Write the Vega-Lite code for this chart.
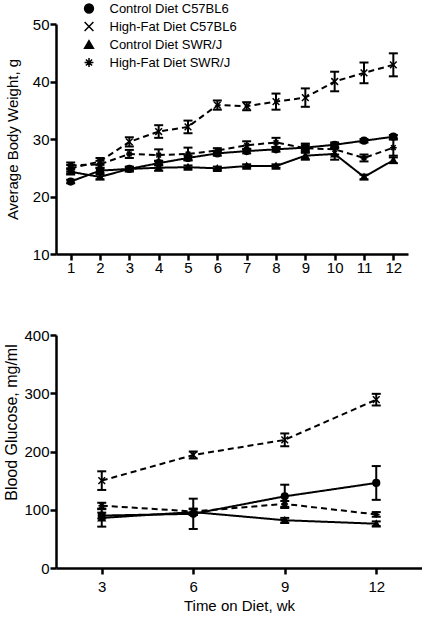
{
  "$schema": "https://vega.github.io/schema/vega-lite/v6.json",
  "padding": {"left": 3, "top": 2, "right": 0, "bottom": 0},
  "config": {
    "font": "Liberation Sans",
    "view": {"stroke": null},
    "axis": {
      "grid": false,
      "domainColor": "black",
      "domainWidth": 2.5,
      "tickColor": "black",
      "tickWidth": 2.5,
      "tickSize": 6,
      "labelFontSize": 15,
      "labelColor": "black",
      "labelPadding": 1,
      "labelOverlap": false,
      "labelFlush": false,
      "titleFontSize": 15,
      "titleFontWeight": "normal",
      "titleColor": "black"
    }
  },
  "spacing": 53,
  "resolve": {
    "scale": {"shape": "independent", "strokeDash": "independent"},
    "legend": {"shape": "independent", "strokeDash": "independent"}
  },
  "datasets": {
    "weight": [
      {"week": 1, "group": "Control Diet C57BL6", "diet": "Control", "mean": 22.6, "lo": 22.3, "hi": 22.9},
      {"week": 2, "group": "Control Diet C57BL6", "diet": "Control", "mean": 24.5, "lo": 24.1, "hi": 24.9},
      {"week": 3, "group": "Control Diet C57BL6", "diet": "Control", "mean": 24.8, "lo": 24.5, "hi": 25.1},
      {"week": 4, "group": "Control Diet C57BL6", "diet": "Control", "mean": 25.8, "lo": 25.4, "hi": 26.2},
      {"week": 5, "group": "Control Diet C57BL6", "diet": "Control", "mean": 26.7, "lo": 26.3, "hi": 27.1},
      {"week": 6, "group": "Control Diet C57BL6", "diet": "Control", "mean": 27.5, "lo": 27.1, "hi": 27.9},
      {"week": 7, "group": "Control Diet C57BL6", "diet": "Control", "mean": 27.9, "lo": 27.5, "hi": 28.3},
      {"week": 8, "group": "Control Diet C57BL6", "diet": "Control", "mean": 28.2, "lo": 27.8, "hi": 28.6},
      {"week": 9, "group": "Control Diet C57BL6", "diet": "Control", "mean": 28.5, "lo": 28.1, "hi": 28.9},
      {"week": 10, "group": "Control Diet C57BL6", "diet": "Control", "mean": 29.0, "lo": 28.6, "hi": 29.4},
      {"week": 11, "group": "Control Diet C57BL6", "diet": "Control", "mean": 29.7, "lo": 29.4, "hi": 30.0},
      {"week": 12, "group": "Control Diet C57BL6", "diet": "Control", "mean": 30.4, "lo": 30.1, "hi": 30.7},
      {"week": 1, "group": "High-Fat Diet C57BL6", "diet": "High-Fat", "mean": 24.9, "lo": 24.3, "hi": 25.5},
      {"week": 2, "group": "High-Fat Diet C57BL6", "diet": "High-Fat", "mean": 26.1, "lo": 25.5, "hi": 26.7},
      {"week": 3, "group": "High-Fat Diet C57BL6", "diet": "High-Fat", "mean": 29.5, "lo": 28.7, "hi": 30.3},
      {"week": 4, "group": "High-Fat Diet C57BL6", "diet": "High-Fat", "mean": 31.3, "lo": 30.2, "hi": 32.4},
      {"week": 5, "group": "High-Fat Diet C57BL6", "diet": "High-Fat", "mean": 32.1, "lo": 31.0, "hi": 33.2},
      {"week": 6, "group": "High-Fat Diet C57BL6", "diet": "High-Fat", "mean": 35.9, "lo": 35.1, "hi": 36.7},
      {"week": 7, "group": "High-Fat Diet C57BL6", "diet": "High-Fat", "mean": 35.7, "lo": 35.0, "hi": 36.4},
      {"week": 8, "group": "High-Fat Diet C57BL6", "diet": "High-Fat", "mean": 36.5, "lo": 35.1, "hi": 37.9},
      {"week": 9, "group": "High-Fat Diet C57BL6", "diet": "High-Fat", "mean": 37.2, "lo": 35.6, "hi": 38.8},
      {"week": 10, "group": "High-Fat Diet C57BL6", "diet": "High-Fat", "mean": 40.0, "lo": 38.3, "hi": 41.7},
      {"week": 11, "group": "High-Fat Diet C57BL6", "diet": "High-Fat", "mean": 41.5, "lo": 39.7, "hi": 43.3},
      {"week": 12, "group": "High-Fat Diet C57BL6", "diet": "High-Fat", "mean": 42.9, "lo": 40.9, "hi": 44.9},
      {"week": 1, "group": "Control Diet SWR/J", "diet": "Control", "mean": 24.3, "lo": 23.9, "hi": 24.7},
      {"week": 2, "group": "Control Diet SWR/J", "diet": "Control", "mean": 23.4, "lo": 23.0, "hi": 23.8},
      {"week": 3, "group": "Control Diet SWR/J", "diet": "Control", "mean": 24.8, "lo": 24.4, "hi": 25.2},
      {"week": 4, "group": "Control Diet SWR/J", "diet": "Control", "mean": 25.0, "lo": 24.5, "hi": 25.5},
      {"week": 5, "group": "Control Diet SWR/J", "diet": "Control", "mean": 25.1, "lo": 24.8, "hi": 25.4},
      {"week": 6, "group": "Control Diet SWR/J", "diet": "Control", "mean": 24.9, "lo": 24.6, "hi": 25.2},
      {"week": 7, "group": "Control Diet SWR/J", "diet": "Control", "mean": 25.3, "lo": 25.0, "hi": 25.6},
      {"week": 8, "group": "Control Diet SWR/J", "diet": "Control", "mean": 25.3, "lo": 25.0, "hi": 25.6},
      {"week": 9, "group": "Control Diet SWR/J", "diet": "Control", "mean": 27.1, "lo": 26.4, "hi": 27.8},
      {"week": 10, "group": "Control Diet SWR/J", "diet": "Control", "mean": 27.4, "lo": 26.4, "hi": 28.4},
      {"week": 11, "group": "Control Diet SWR/J", "diet": "Control", "mean": 23.4, "lo": 23.0, "hi": 23.8},
      {"week": 12, "group": "Control Diet SWR/J", "diet": "Control", "mean": 26.3, "lo": 25.8, "hi": 26.8},
      {"week": 1, "group": "High-Fat Diet SWR/J", "diet": "High-Fat", "mean": 25.4, "lo": 24.9, "hi": 25.9},
      {"week": 2, "group": "High-Fat Diet SWR/J", "diet": "High-Fat", "mean": 25.6, "lo": 25.0, "hi": 26.2},
      {"week": 3, "group": "High-Fat Diet SWR/J", "diet": "High-Fat", "mean": 27.4, "lo": 26.7, "hi": 28.1},
      {"week": 4, "group": "High-Fat Diet SWR/J", "diet": "High-Fat", "mean": 27.2, "lo": 26.2, "hi": 28.2},
      {"week": 5, "group": "High-Fat Diet SWR/J", "diet": "High-Fat", "mean": 27.4, "lo": 26.3, "hi": 28.5},
      {"week": 6, "group": "High-Fat Diet SWR/J", "diet": "High-Fat", "mean": 28.0, "lo": 27.6, "hi": 28.4},
      {"week": 7, "group": "High-Fat Diet SWR/J", "diet": "High-Fat", "mean": 28.9, "lo": 28.2, "hi": 29.6},
      {"week": 8, "group": "High-Fat Diet SWR/J", "diet": "High-Fat", "mean": 29.4, "lo": 28.6, "hi": 30.2},
      {"week": 9, "group": "High-Fat Diet SWR/J", "diet": "High-Fat", "mean": 28.4, "lo": 27.6, "hi": 29.2},
      {"week": 10, "group": "High-Fat Diet SWR/J", "diet": "High-Fat", "mean": 28.2, "lo": 27.3, "hi": 29.1},
      {"week": 11, "group": "High-Fat Diet SWR/J", "diet": "High-Fat", "mean": 26.7, "lo": 26.1, "hi": 27.3},
      {"week": 12, "group": "High-Fat Diet SWR/J", "diet": "High-Fat", "mean": 28.5, "lo": 27.1, "hi": 29.9}
    ],
    "glucose": [
      {"week": 3, "group": "Control Diet C57BL6", "diet": "Control", "mean": 90, "lo": 85, "hi": 95},
      {"week": 6, "group": "Control Diet C57BL6", "diet": "Control", "mean": 93, "lo": 67, "hi": 119},
      {"week": 9, "group": "Control Diet C57BL6", "diet": "Control", "mean": 123, "lo": 103, "hi": 143},
      {"week": 12, "group": "Control Diet C57BL6", "diet": "Control", "mean": 146, "lo": 117, "hi": 175},
      {"week": 3, "group": "High-Fat Diet C57BL6", "diet": "High-Fat", "mean": 150, "lo": 134, "hi": 166},
      {"week": 6, "group": "High-Fat Diet C57BL6", "diet": "High-Fat", "mean": 194, "lo": 188, "hi": 200},
      {"week": 9, "group": "High-Fat Diet C57BL6", "diet": "High-Fat", "mean": 220, "lo": 209, "hi": 231},
      {"week": 12, "group": "High-Fat Diet C57BL6", "diet": "High-Fat", "mean": 289, "lo": 279, "hi": 299},
      {"week": 3, "group": "Control Diet SWR/J", "diet": "Control", "mean": 86, "lo": 71, "hi": 101},
      {"week": 6, "group": "Control Diet SWR/J", "diet": "Control", "mean": 96, "lo": 91, "hi": 101},
      {"week": 9, "group": "Control Diet SWR/J", "diet": "Control", "mean": 82, "lo": 78, "hi": 86},
      {"week": 12, "group": "Control Diet SWR/J", "diet": "Control", "mean": 76, "lo": 72, "hi": 80},
      {"week": 3, "group": "High-Fat Diet SWR/J", "diet": "High-Fat", "mean": 107, "lo": 102, "hi": 112},
      {"week": 6, "group": "High-Fat Diet SWR/J", "diet": "High-Fat", "mean": 97, "lo": 92, "hi": 102},
      {"week": 9, "group": "High-Fat Diet SWR/J", "diet": "High-Fat", "mean": 110, "lo": 105, "hi": 115},
      {"week": 12, "group": "High-Fat Diet SWR/J", "diet": "High-Fat", "mean": 92, "lo": 88, "hi": 96}
    ]
  },
  "vconcat": [
    {
      "width": 352,
      "height": 230,
      "data": {"name": "weight"},
      "layer": [
        {
          "mark": {"type": "errorbar", "color": "black", "opacity": 1, "ticks": {"size": 9, "thickness": 2, "opacity": 1}, "rule": {"strokeWidth": 2, "opacity": 1}},
          "encoding": {
            "x": {"field": "week", "type": "quantitative", "title": null, "scale": {"domain": [0.5, 12.5], "nice": false, "zero": false},
              "axis": {"values": [1, 2, 3, 4, 5, 6, 7, 8, 9, 10, 11, 12], "labelPadding": 0, "labelOverlap": false}},
            "y": {"field": "lo", "type": "quantitative", "title": "Average Body Weight, g", "scale": {"domain": [10, 50], "nice": false, "zero": false},
              "axis": {"values": [10, 20, 30, 40, 50], "titleX": -35.5, "labelOverlap": false}},
            "y2": {"field": "hi"},
            "detail": {"field": "group"}
          }
        },
        {
          "mark": {"type": "line", "color": "black", "strokeWidth": 2},
          "encoding": {
            "x": {"field": "week", "type": "quantitative", "title": null,
              "axis": {"values": [1, 2, 3, 4, 5, 6, 7, 8, 9, 10, 11, 12], "labelPadding": 0, "labelOverlap": false}},
            "y": {"field": "mean", "type": "quantitative", "title": "Average Body Weight, g",
              "axis": {"values": [10, 20, 30, 40, 50], "titleX": -35.5, "labelOverlap": false}},
            "detail": {"field": "group"},
            "strokeDash": {
              "field": "diet", "type": "nominal", "legend": null,
              "scale": {"domain": ["Control", "High-Fat"], "range": [[1, 0], [6, 4]]}
            }
          }
        },
        {
          "mark": {"type": "point", "filled": true, "fill": "black", "stroke": "black", "strokeWidth": 1.5, "opacity": 1, "size": 45},
          "encoding": {
            "x": {"field": "week", "type": "quantitative", "title": null,
              "axis": {"values": [1, 2, 3, 4, 5, 6, 7, 8, 9, 10, 11, 12], "labelPadding": 0, "labelOverlap": false}},
            "y": {"field": "mean", "type": "quantitative", "title": "Average Body Weight, g",
              "axis": {"values": [10, 20, 30, 40, 50], "titleX": -35.5, "labelOverlap": false}},
            "shape": {
              "field": "group", "type": "nominal",
              "scale": {"domain": ["Control Diet C57BL6", "High-Fat Diet C57BL6", "Control Diet SWR/J", "High-Fat Diet SWR/J"],
                "range": ["circle", "M-1,-1L1,1M-1,1L1,-1", "triangle-up", "M-1,0L1,0M0,-1L0,1M-0.7,-0.7L0.7,0.7M-0.7,0.7L0.7,-0.7"]},
              "legend": {
                "title": null, "orient": "none", "legendX": 26.5, "legendY": -22, "padding": 0,
                "labelFontSize": 13, "labelColor": "black", "labelOffset": 14, "rowPadding": 3, "symbolSize": 78,
                "symbolStrokeWidth": 1.5,
                "encode": {
                  "symbols": {
                    "fill": {"value": "black"},
                    "stroke": {"value": "black"},
                    "opacity": {"value": 1},
                    "fillOpacity": {"value": 1}
                  }
                }
              }
            }
          }
        }
      ]
    },
    {
      "width": 366,
      "height": 233,
      "data": {"name": "glucose"},
      "layer": [
        {
          "mark": {"type": "errorbar", "color": "black", "opacity": 1, "ticks": {"size": 9, "thickness": 2, "opacity": 1}, "rule": {"strokeWidth": 2, "opacity": 1}},
          "encoding": {
            "x": {"field": "week", "type": "quantitative", "title": "Time on Diet, wk", "scale": {"domain": [1.5, 13.5], "nice": false, "zero": false},
              "axis": {"values": [3, 6, 9, 12], "labelPadding": 5, "titlePadding": 4, "labelOverlap": false}},
            "y": {"field": "lo", "type": "quantitative", "title": "Blood Glucose, mg/ml", "scale": {"domain": [0, 400], "nice": false},
              "axis": {"values": [0, 100, 200, 300, 400], "titleX": -36.5, "titleY": 87, "titleFontSize": 16, "labelOverlap": false}},
            "y2": {"field": "hi"},
            "detail": {"field": "group"}
          }
        },
        {
          "mark": {"type": "line", "color": "black", "strokeWidth": 2},
          "encoding": {
            "x": {"field": "week", "type": "quantitative", "title": "Time on Diet, wk",
              "axis": {"values": [3, 6, 9, 12], "labelPadding": 5, "titlePadding": 4, "labelOverlap": false}},
            "y": {"field": "mean", "type": "quantitative", "title": "Blood Glucose, mg/ml",
              "axis": {"values": [0, 100, 200, 300, 400], "titleX": -36.5, "titleY": 87, "titleFontSize": 16, "labelOverlap": false}},
            "detail": {"field": "group"},
            "strokeDash": {
              "field": "diet", "type": "nominal", "legend": null,
              "scale": {"domain": ["Control", "High-Fat"], "range": [[1, 0], [6, 4]]}
            }
          }
        },
        {
          "mark": {"type": "point", "filled": true, "fill": "black", "stroke": "black", "strokeWidth": 1.5, "opacity": 1, "size": 45},
          "encoding": {
            "x": {"field": "week", "type": "quantitative", "title": "Time on Diet, wk",
              "axis": {"values": [3, 6, 9, 12], "labelPadding": 5, "titlePadding": 4, "labelOverlap": false}},
            "y": {"field": "mean", "type": "quantitative", "title": "Blood Glucose, mg/ml",
              "axis": {"values": [0, 100, 200, 300, 400], "titleX": -36.5, "titleY": 87, "titleFontSize": 16, "labelOverlap": false}},
            "shape": {
              "field": "group", "type": "nominal", "legend": null,
              "scale": {"domain": ["Control Diet C57BL6", "High-Fat Diet C57BL6", "Control Diet SWR/J", "High-Fat Diet SWR/J"],
                "range": ["circle", "M-1,-1L1,1M-1,1L1,-1", "triangle-up", "M-1,0L1,0M0,-1L0,1M-0.7,-0.7L0.7,0.7M-0.7,0.7L0.7,-0.7"]}
            }
          }
        }
      ]
    }
  ]
}
